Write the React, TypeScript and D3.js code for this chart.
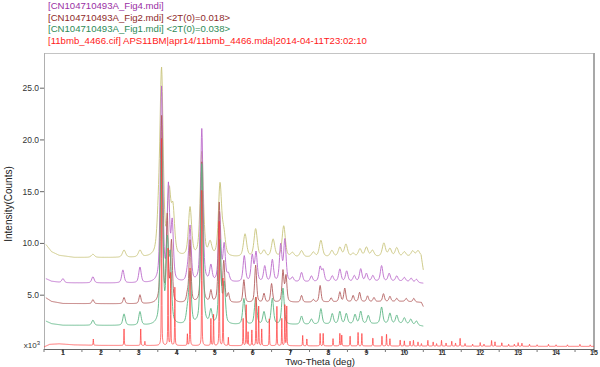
import React, { useEffect, useRef } from 'react';
import * as d3 from 'd3';

// legend text, top to bottom
const legendLabels = [
  '[CN104710493A_Fig4.mdi]',
  '[CN104710493A_Fig2.mdi] <2T(0)=0.018>',
  '[CN104710493A_Fig1.mdi] <2T(0)=0.038>',
  '[11bmb_4466.cif] APS11BM|apr14/11bmb_4466.mda|2014-04-11T23:02:10',
];
const legendColors = ['#9a2fa4', '#8e2a2a', '#2e8b57', '#ff1a1a'];

const xTicks = [1, 2, 3, 4, 5, 6, 7, 8, 9, 10, 11, 12, 13, 14, 15];
const yTicks = [5, 10, 15, 20, 25];
const yTickLabels = ['5.0', '10.0', '15.0', '20.0', '25.0'];

// intensities in thousands of counts, 2-theta in degrees
// background points [deg, k]
const oliveBase: [number, number][] = [[0.55, 9.9], [0.7, 9.2], [0.9, 8.85], [1.3, 8.65], [3.3, 8.6], [7.0, 8.65], [10.0, 8.7], [10.44, 8.8], [10.5, 7.4]];
const purpleBase: [number, number][] = [[0.55, 6.6], [0.7, 6.35], [1.0, 6.2], [3.3, 6.15], [7.0, 6.25], [10.0, 6.35], [10.5, 6.15]];
const maroonBase: [number, number][] = [[0.55, 4.75], [0.7, 4.4], [1.0, 4.2], [3.3, 4.15], [7.0, 4.3], [10.0, 4.4], [10.45, 4.3], [10.5, 3.9]];
const greenBase: [number, number][] = [[0.55, 2.5], [0.7, 2.25], [1.0, 2.1], [3.3, 2.05], [7.0, 2.15], [10.0, 2.25], [10.5, 2.0]];
const redBase: [number, number][] = [[0.5, 0.0], [0.65, 0.25], [0.9, 0.3], [1.3, 0.2], [2.0, 0.15], [15, 0.05]];

// peaks [deg, height above background in k]
const olivePeaks: [number, number][] = [
  [1.79, 0.3], [2.61, 0.7], [3.03, 0.65], [3.52, 3.0], [3.6, 17.5], [3.8, 5.8], [3.9, 4.3], [4.35, 4.7],
  [4.66, 10.1], [4.88, 1.25], [5.14, 6.9], [5.24, 2.0], [5.8, 2.2], [6.08, 2.7], [6.3, 0.6], [6.54, 1.7],
  [6.82, 3.0], [7.05, 0.4], [7.29, 0.6], [7.6, 0.45], [7.8, 1.6], [8.09, 0.6], [8.3, 0.9], [8.46, 1.2],
  [8.65, 0.3], [8.83, 0.75], [9.0, 0.9], [9.16, 0.6], [9.46, 1.3], [9.62, 0.75], [9.8, 0.85], [10.0, 0.45],
  [10.22, 0.5], [10.36, 0.5],
];
const purplePeaks: [number, number][] = [
  [1.0, 0.4], [1.79, 0.6], [2.58, 1.25], [3.03, 1.5], [3.6, 18.8], [3.78, 9.0], [3.88, 5.5], [4.28, 0.8],
  [4.35, 5.3], [4.66, 14.8], [4.9, 1.5], [5.13, 6.6], [5.25, 3.5], [5.36, 0.7], [5.78, 2.5], [5.99, 2.5],
  [6.09, 2.8], [6.32, 1.5], [6.52, 2.1], [6.74, 3.5], [6.85, 4.0], [7.05, 0.4], [7.29, 0.9], [7.55, 0.55],
  [7.78, 1.4], [7.86, 1.1], [8.1, 0.55], [8.3, 1.2], [8.48, 1.0], [8.68, 0.55], [8.85, 1.2], [9.0, 0.75],
  [9.17, 0.55], [9.4, 1.5], [9.6, 0.75], [9.8, 0.5], [10.0, 0.35], [10.18, 0.35], [10.32, 0.3],
];
const maroonPeaks: [number, number][] = [
  [1.79, 0.4], [2.61, 0.6], [3.03, 0.85], [3.6, 18.0], [3.75, 8.2], [3.86, 5.8], [4.28, 0.7], [4.35, 6.0],
  [4.66, 13.6], [4.9, 1.1], [5.12, 9.6], [5.24, 3.8], [5.36, 0.8], [5.77, 2.2], [6.08, 3.6], [6.3, 0.85],
  [6.5, 1.8], [6.8, 3.0], [6.88, 2.5], [7.29, 0.65], [7.6, 0.25], [7.78, 1.6], [8.07, 0.4], [8.3, 0.95],
  [8.43, 1.3], [8.65, 0.6], [8.82, 0.9], [9.03, 0.55], [9.2, 0.4], [9.45, 0.75], [9.62, 0.5], [9.8, 0.3],
  [10.05, 0.3], [10.25, 0.35],
];
const greenPeaks: [number, number][] = [
  [1.79, 0.5], [2.61, 1.1], [3.03, 1.3], [3.6, 17.8], [3.75, 7.5], [3.83, 6.2], [4.28, 1.2], [4.35, 4.9],
  [4.66, 15.5], [4.9, 1.3], [5.14, 8.0], [5.25, 3.8], [5.77, 2.5], [6.08, 2.6], [6.3, 1.2], [6.52, 2.5],
  [6.8, 3.5], [7.29, 0.8], [7.55, 0.5], [7.8, 1.5], [8.1, 1.0], [8.3, 1.2], [8.47, 1.0], [8.7, 0.9],
  [8.85, 1.2], [9.05, 0.8], [9.4, 1.6], [9.62, 1.0], [9.8, 0.8], [10.0, 0.55], [10.17, 0.5], [10.32, 0.4],
];
const redPeaks: [number, number][] = [
  [1.8, 0.6], [2.61, 1.7], [3.05, 1.7], [3.16, 0.4], [3.6, 20], [3.77, 10], [3.84, 7], [3.95, 6],
  [4.28, 1.1], [4.35, 8], [4.66, 15], [4.9, 2.6], [4.97, 3.2], [5.12, 12], [5.22, 6.5], [5.36, 0.8],
  [5.75, 2.8], [5.83, 4.2], [5.88, 1.3], [5.98, 1.5], [6.09, 5.0], [6.16, 3.8], [6.24, 1.6], [6.44, 2.6],
  [6.64, 3.8], [6.77, 2.8], [6.85, 4.2], [6.9, 3.8], [7.32, 1.0], [7.43, 0.7], [7.78, 1.2], [7.86, 1.2],
  [8.12, 0.7], [8.3, 1.2], [8.35, 1.1], [8.57, 1.0], [8.78, 1.3], [8.88, 1.2], [9.17, 0.8], [9.41, 1.0],
  [9.53, 1.2], [9.62, 0.7], [9.89, 0.6], [10.0, 0.5], [10.15, 0.5], [10.24, 0.55], [10.36, 0.4], [10.45, 0.25],
  [10.62, 0.55], [10.76, 0.4], [10.85, 0.25], [10.98, 0.55], [11.1, 0.3], [11.25, 0.5], [11.35, 0.3], [11.47, 0.8],
  [11.6, 0.25], [11.8, 0.2], [12.0, 0.35], [12.1, 0.2], [12.3, 0.55], [12.39, 0.45], [12.57, 0.35], [12.75, 0.2],
  [12.9, 0.2], [13.0, 0.35], [13.1, 0.3], [13.3, 0.2], [13.5, 0.15], [13.8, 0.2], [14.0, 0.15], [14.3, 0.15],
  [14.63, 0.2], [14.9, 0.15],
];

const series = [
  { base: oliveBase, peaks: olivePeaks, fwhm: 0.1, color: '#c8c47c', step: 0.01, w: 0.9 },
  { base: purpleBase, peaks: purplePeaks, fwhm: 0.075, color: '#bb6acb', step: 0.01, w: 0.9 },
  { base: maroonBase, peaks: maroonPeaks, fwhm: 0.06, color: '#b35f5f', step: 0.01, w: 0.9 },
  { base: greenBase, peaks: greenPeaks, fwhm: 0.075, color: '#5cb585', step: 0.01, w: 0.9 },
  { base: redBase, peaks: redPeaks, fwhm: 0.014, color: '#ff3535', step: 0.004, w: 0.7 },
];

function profile(base: [number, number][], peaks: [number, number][], fwhm: number, step: number) {
  const bg = d3.scaleLinear().domain(base.map(d => d[0])).range(base.map(d => d[1])).clamp(true);
  const x0 = base[0][0], x1 = base[base.length - 1][0];
  const pts: [number, number][] = [];
  const hw = fwhm / 2;
  for (let x = x0; x <= x1 + 1e-9; x += step) {
    let v = bg(x);
    for (const [c, h] of peaks) {
      const t = (x - c) / hw;
      if (Math.abs(t) > 60) continue;
      const g = Math.exp(-Math.LN2 * t * t);
      const l = 1 / (1 + t * t);
      v += h * (0.5 * g + 0.5 * l);
    }
    pts.push([x, v]);
  }
  return pts;
}

export default function App() {
  const ref = useRef<SVGSVGElement>(null);

  useEffect(() => {
    const svg = d3.select(ref.current);
    svg.selectAll('*').remove();
    const font = 'Liberation Sans, Arial, sans-serif';

    const margin = { top: 53, right: 6, bottom: 18, left: 44 };
    const width = 600, height = 367;

    const x = d3.scaleLinear().domain([0.5, 15]).range([margin.left, width - margin.right]);
    const y = d3.scaleLinear().domain([-0.2, 28.4]).range([height - margin.bottom, margin.top]);

    svg.append('clipPath').attr('id', 'plot')
      .append('rect')
      .attr('x', margin.left).attr('y', margin.top)
      .attr('width', width - margin.left - margin.right)
      .attr('height', height - margin.top - margin.bottom);

    // frame
    svg.append('line').attr('x1', margin.left).attr('x2', width - margin.right)
      .attr('y1', margin.top + 0.5).attr('y2', margin.top + 0.5).attr('stroke', '#c4c4c4');
    svg.append('line').attr('x1', margin.left + 0.5).attr('x2', margin.left + 0.5)
      .attr('y1', margin.top).attr('y2', height - margin.bottom).attr('stroke', '#b0b0b0');
    svg.append('line').attr('x1', width - margin.right).attr('x2', width - margin.right)
      .attr('y1', margin.top).attr('y2', height - margin.bottom).attr('stroke', '#a8a8a8').attr('stroke-width', 2);

    // curves
    const line = d3.line<[number, number]>().x(d => x(d[0])).y(d => y(d[1]));
    const g = svg.append('g').attr('clip-path', 'url(#plot)');
    series.forEach(s => {
      g.append('path')
        .datum(profile(s.base, s.peaks, s.fwhm, s.step))
        .attr('fill', 'none')
        .attr('stroke', s.color)
        .attr('stroke-width', s.w)
        .attr('d', line);
    });

    // x axis
    const xAxis = svg.append('g').attr('transform', `translate(0,${height - margin.bottom})`);
    xAxis.append('line').attr('x1', margin.left).attr('x2', width - margin.right)
      .attr('y1', 0.5).attr('y2', 0.5).attr('stroke', '#666');
    const minor = d3.range(0.5, 15.01, 0.5).filter(v => v % 1 !== 0);
    xAxis.selectAll('.minor').data(minor).join('line')
      .attr('x1', d => x(d)).attr('x2', d => x(d)).attr('y1', 0).attr('y2', 3).attr('stroke', '#777');
    xAxis.selectAll('.major').data(xTicks).join('line')
      .attr('x1', d => x(d)).attr('x2', d => x(d)).attr('y1', 0).attr('y2', 4).attr('stroke', '#444');
    xAxis.selectAll('text').data(xTicks).join('text')
      .attr('x', d => x(d)).attr('y', 5.5)
      .attr('text-anchor', 'middle').attr('font-family', font).attr('font-size', 7)
      .attr('font-weight', 'bold').attr('fill', '#333')
      .text(d => d);
    svg.append('text').attr('x', 320).attr('y', 365)
      .attr('text-anchor', 'middle').attr('font-family', font).attr('font-size', 9.5).attr('fill', '#222')
      .text('Two-Theta (deg)');

    // y axis
    const yAxis = svg.append('g');
    yAxis.selectAll('line').data(yTicks).join('line')
      .attr('x1', margin.left - 4).attr('x2', margin.left).attr('y1', d => y(d)).attr('y2', d => y(d))
      .attr('stroke', '#666');
    yAxis.selectAll('text').data(yTicks).join('text')
      .attr('x', margin.left - 5).attr('y', d => y(d) + 3)
      .attr('text-anchor', 'end').attr('font-family', font).attr('font-size', 8.5).attr('fill', '#333')
      .text((d, i) => yTickLabels[i]);
    const x10 = svg.append('text').attr('x', margin.left - 4).attr('y', y(0) + 1)
      .attr('text-anchor', 'end').attr('font-family', font).attr('font-size', 8).attr('fill', '#333');
    x10.append('tspan').text('x10');
    x10.append('tspan').attr('font-size', 6).attr('dy', -3).text('3');

    svg.append('text')
      .attr('transform', `translate(12,${(margin.top + height - margin.bottom) / 2 + 3}) rotate(-90)`)
      .attr('text-anchor', 'middle').attr('font-family', font).attr('font-size', 10).attr('fill', '#222')
      .text('Intensity(Counts)');

    // legend
    svg.selectAll('.legend').data(legendLabels).join('text')
      .attr('x', 48).attr('y', (d, i) => 9 + i * 11.5)
      .attr('font-family', font).attr('font-size', 9.6)
      .attr('fill', (d, i) => legendColors[i])
      .text(d => d);
  }, []);

  return (
    <svg ref={ref} width={600} height={367}
      style={{ position: 'absolute', left: 0, top: 0, background: '#fff' }} />
  );
}
